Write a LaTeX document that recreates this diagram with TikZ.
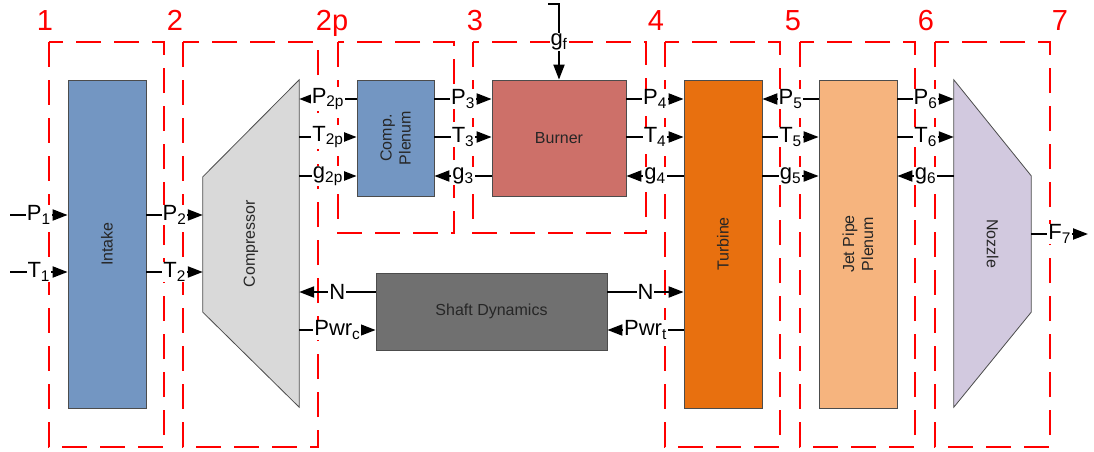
\documentclass[tikz,border=0pt]{standalone}
\usepackage{fontspec}
\setmainfont{Liberation Sans}
\usetikzlibrary{arrows.meta,calc}
\definecolor{intakeblue}{RGB}{115,150,194}
\definecolor{burnred}{RGB}{205,112,105}
\definecolor{turborange}{RGB}{232,112,15}
\definecolor{jetpeach}{RGB}{246,180,126}
\definecolor{nozlilac}{RGB}{210,201,223}
\definecolor{compgray}{RGB}{217,217,217}
\definecolor{shaftgray}{RGB}{112,112,112}
\tikzset{
  >={Triangle[length=15pt,width=11pt]},
  blk/.style={draw=black!70,line width=0.8pt,inner sep=0pt},
  hid/.style={inner sep=0pt},
  txt/.style={text=black!85,font=\fontsize{16}{19}\selectfont,align=center},
  vtxt/.style={txt,rotate=90},
  sec/.style={draw=red,line width=1.7pt,dash pattern=on 25pt off 13pt},
  num/.style={text=red,anchor=base,font=\fontsize{29}{31}\selectfont},
  sig/.style={line width=2pt,->},
  lbl/.style={midway,fill=white,inner sep=1pt,font=\fontsize{22}{25}\selectfont},
}
\begin{document}
\begin{tikzpicture}[x=1pt,y=-1pt]
\useasboundingbox (0,0) rectangle (1094,452);
% station numbers and control volumes
\foreach \x/\t/\n in {45/1/a,175/2/b,332/2p/c,475/3/d,656/4/e,793/5/f,926/6/g,1060/7/h}
  \node[num] (st\n) at (\x,31) {\t};
\foreach \xa/\ya/\xb/\yb in {49/42/164/447,183/42/318/447,338/42/454/233,473/42/646/233,665/42/780/447,800/42/915/447,935/42/1050/447}
  \draw[sec] (\xa,\ya) rectangle (\xb,\yb);
% components
\node[blk,fill=intakeblue,minimum width=78,minimum height=328] (intake) at (107,244) {};
\node[hid,minimum width=96,minimum height=327] (comp) at (251,243.5) {};
\draw[blk,fill=compgray] (comp.north east) -- (comp.south east) -- ([yshift=95pt]comp.south west) -- ([yshift=-97pt]comp.north west) -- cycle;
\node[blk,fill=intakeblue,minimum width=77,minimum height=116] (plenum) at (395.5,138) {};
\node[blk,fill=burnred,minimum width=134,minimum height=116] (burner) at (559,138) {};
\node[blk,fill=turborange,minimum width=78,minimum height=328] (turb) at (723,244) {};
\node[blk,fill=jetpeach,minimum width=78,minimum height=328] (jetpipe) at (858,244) {};
\node[hid,minimum width=77,minimum height=327] (noz) at (992.5,243.5) {};
\draw[blk,fill=nozlilac] (noz.north west) -- ([yshift=-96pt]noz.north east) -- ([yshift=95pt]noz.south east) -- (noz.south west) -- cycle;
\node[blk,fill=shaftgray,minimum width=231,minimum height=77] (shaft) at (491.5,311.5) {};
\node[vtxt] (intaketxt) at (intake) {Intake}; \node[vtxt] (comptxt) at (comp) {Compressor};
\node[vtxt] (plenumtxt) at (plenum) {Comp.\\Plenum}; \node[txt] (burnertxt) at (burner) {Burner};
\node[vtxt] (turbtxt) at (turb) {Turbine}; \node[vtxt] (jetpipetxt) at (jetpipe) {Jet Pipe\\Plenum};
\node[txt,rotate=-90] (noztxt) at (noz) {Nozzle}; \node[txt] (shafttxt) at (shaft) {Shaft Dynamics};
% signal rows
\coordinate (ra) at (0,99); \coordinate (rb) at (0,137); \coordinate (rc) at (0,176);
\coordinate (rn) at (0,292); \coordinate (rw) at (0,330); \coordinate (rf) at (0,234);
\coordinate (Pin) at (10,215); \coordinate (Tin) at (10,272); \coordinate (Fout) at (1088,234); \coordinate (gtop) at (548,4);
% signals
\draw[sig] (Pin) -- node[lbl]{P\textsubscript{1}} (intake.west |- Pin);
\draw[sig] (Tin) -- node[lbl]{T\textsubscript{1}} (intake.west |- Tin);
\draw[sig] (intake.east |- Pin) -- node[lbl]{P\textsubscript{2}} (comp.west |- Pin);
\draw[sig] (intake.east |- Tin) -- node[lbl]{T\textsubscript{2}} (comp.west |- Tin);
\draw[sig] (plenum.west |- ra) -- node[lbl]{P\textsubscript{2p}} (comp.east |- ra);
\draw[sig] (comp.east |- rb) -- node[lbl]{T\textsubscript{2p}} (plenum.west |- rb);
\draw[sig] (comp.east |- rc) -- node[lbl]{g\textsubscript{2p}} (plenum.west |- rc);
\draw[sig] (plenum.east |- ra) -- node[lbl]{P\textsubscript{3}} (burner.west |- ra);
\draw[sig] (plenum.east |- rb) -- node[lbl]{T\textsubscript{3}} (burner.west |- rb);
\draw[sig] (burner.west |- rc) -- node[lbl]{g\textsubscript{3}} (plenum.east |- rc);
\draw[sig] (gtop) -| node[lbl,pos=0.75]{g\textsubscript{f}} (burner.north);
\draw[sig] (burner.east |- ra) -- node[lbl]{P\textsubscript{4}} (turb.west |- ra);
\draw[sig] (burner.east |- rb) -- node[lbl]{T\textsubscript{4}} (turb.west |- rb);
\draw[sig] (turb.west |- rc) -- node[lbl]{g\textsubscript{4}} (burner.east |- rc);
\draw[sig] (jetpipe.west |- ra) -- node[lbl]{P\textsubscript{5}} (turb.east |- ra);
\draw[sig] (turb.east |- rb) -- node[lbl]{T\textsubscript{5}} (jetpipe.west |- rb);
\draw[sig] (turb.east |- rc) -- node[lbl]{g\textsubscript{5}} (jetpipe.west |- rc);
\draw[sig] (jetpipe.east |- ra) -- node[lbl]{P\textsubscript{6}} (noz.west |- ra);
\draw[sig] (jetpipe.east |- rb) -- node[lbl]{T\textsubscript{6}} (noz.west |- rb);
\draw[sig] (noz.west |- rc) -- node[lbl]{g\textsubscript{6}} (jetpipe.east |- rc);
\draw[sig] (noz.east |- rf) -- node[lbl]{F\textsubscript{7}} (Fout);
\draw[sig] (shaft.west |- rn) -- node[lbl]{N} (comp.east |- rn);
\draw[sig] (comp.east |- rw) -- node[lbl]{Pwr\textsubscript{c}} (shaft.west |- rw);
\draw[sig] (shaft.east |- rn) -- node[lbl]{N} (turb.west |- rn);
\draw[sig] (turb.west |- rw) -- node[lbl]{Pwr\textsubscript{t}} (shaft.east |- rw);
\end{tikzpicture}
\end{document}
